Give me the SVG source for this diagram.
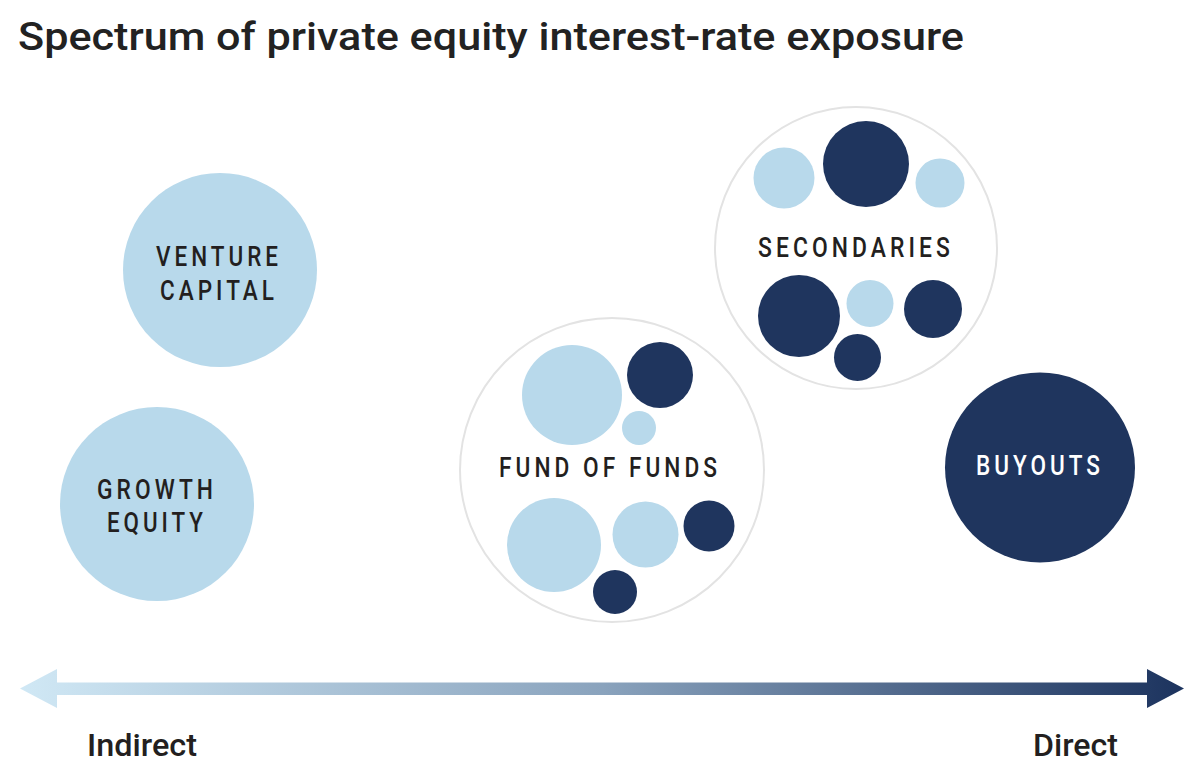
<svg xmlns="http://www.w3.org/2000/svg" width="1200" height="775" viewBox="0 0 1200 775">
<style>
.title{font-family:Roboto,"Liberation Sans",Arial,sans-serif;font-weight:500;font-size:38px;fill:#222222}
.lbl{font-family:Roboto,"Liberation Sans",Arial,sans-serif;font-weight:500;font-size:28px;letter-spacing:5px;fill:#231f20}
.wlbl{font-family:Roboto,"Liberation Sans",Arial,sans-serif;font-weight:500;font-size:28px;letter-spacing:5px;fill:#ffffff}
.axis{font-family:Roboto,"Liberation Sans",Arial,sans-serif;font-weight:500;font-size:31px;fill:#231f20}
.light{fill:#b8d9eb}
.dark{fill:#1f355e}
.outer{fill:#ffffff;stroke:#e3e3e3;stroke-width:2}
</style>
<defs>
<linearGradient id="grad" gradientUnits="userSpaceOnUse" x1="20" y1="0" x2="1184" y2="0">
<stop offset="0" stop-color="#d0e8f5"/>
<stop offset="0.5" stop-color="#8aa3bd"/>
<stop offset="1" stop-color="#1c335e"/>
</linearGradient>
</defs>
<rect width="1200" height="775" fill="#ffffff"/>
<text class="title" x="18" y="50" textLength="946" lengthAdjust="spacingAndGlyphs">Spectrum of private equity interest-rate exposure</text>

<g id="connectors">
<path d="M20,688.5 L57,669 L57,682.5 L1147,682.5 L1147,669 L1184,688.5 L1147,708 L1147,695 L57,695 L57,708 Z" fill="url(#grad)"/>
</g>

<g id="venture-capital">
<circle class="light" cx="220" cy="270" r="97"/>
<text class="lbl" x="156" y="266" textLength="126" lengthAdjust="spacingAndGlyphs">VENTURE</text>
<text class="lbl" x="160" y="300" textLength="118" lengthAdjust="spacingAndGlyphs">CAPITAL</text>
</g>

<g id="growth-equity">
<circle class="light" cx="157" cy="504" r="97"/>
<text class="lbl" x="97" y="499" textLength="120" lengthAdjust="spacingAndGlyphs">GROWTH</text>
<text class="lbl" x="107" y="532" textLength="100" lengthAdjust="spacingAndGlyphs">EQUITY</text>
</g>

<g id="fund-of-funds">
<circle class="outer" cx="612" cy="470" r="152"/>
<circle class="light" cx="572" cy="395" r="50"/>
<circle class="dark" cx="660" cy="375" r="33"/>
<circle class="light" cx="639" cy="428" r="17"/>
<circle class="light" cx="554" cy="545" r="47"/>
<circle class="light" cx="645.5" cy="534.5" r="33"/>
<circle class="dark" cx="709" cy="526" r="25.5"/>
<circle class="dark" cx="615" cy="592" r="22"/>
<text class="lbl" x="499" y="477" textLength="222" lengthAdjust="spacingAndGlyphs">FUND OF FUNDS</text>
</g>

<g id="secondaries">
<circle class="outer" cx="856" cy="248" r="141"/>
<circle class="light" cx="784" cy="178" r="30.5"/>
<circle class="dark" cx="866" cy="164" r="43"/>
<circle class="light" cx="940" cy="183" r="24.5"/>
<circle class="dark" cx="799" cy="316" r="41"/>
<circle class="light" cx="870" cy="303.5" r="23.5"/>
<circle class="dark" cx="933" cy="309" r="29"/>
<circle class="dark" cx="857.5" cy="357.5" r="23.5"/>
<text class="lbl" x="758" y="257" textLength="196" lengthAdjust="spacingAndGlyphs">SECONDARIES</text>
</g>

<g id="buyouts">
<circle class="dark" cx="1040" cy="467.5" r="95"/>
<text class="wlbl" x="976" y="475" textLength="128" lengthAdjust="spacingAndGlyphs">BUYOUTS</text>
</g>

<g id="axis-labels">
<text class="axis" x="87" y="756" textLength="110" lengthAdjust="spacingAndGlyphs">Indirect</text>
<text class="axis" x="1033" y="756" textLength="85" lengthAdjust="spacingAndGlyphs">Direct</text>
</g>
</svg>
